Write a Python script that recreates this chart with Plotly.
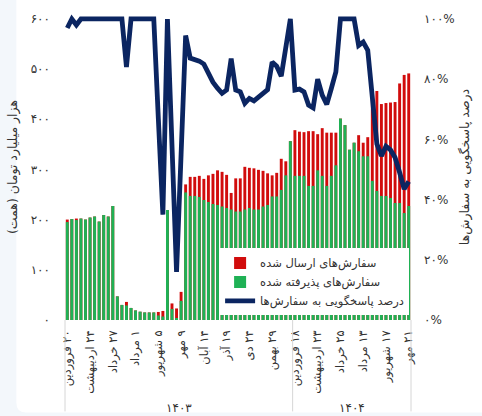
import plotly.graph_objects as go

# ---------------- data ----------------
# weekly bars: total sent orders and accepted orders (thousand billion toman)
sent = [200, 201, 202, 202, 200, 204, 206, 196, 209, 206,
        227, 47, 30, 36, 24, 19, 16.5, 15, 15, 15,
        16, 18, 219, 33, 23, 56, 270, 285, 285, 287,
        281, 288, 291, 298, 295, 289, 253, 282, 282, 305,
        303, 302, 299, 297, 292, 288, 293, 321, 316, 356,
        378, 375, 374, 376, 376, 370, 382, 373, 373, 373,
        401, 388, 339, 353, 368, 353, 364, 448, 456, 430,
        432, 433, 434, 471, 488, 491]
accepted = [195, 201, 199, 202, 200, 204, 206, 196, 209, 206,
            227, 47, 30, 29, 24, 19, 16.5, 15, 15, 15,
            9, 7, 219, 22, 3, 38, 254, 247, 247, 245,
            239, 235, 231, 229, 226, 223, 220, 216, 216, 220,
            223, 220, 220, 226, 229, 246, 246, 259, 288, 356,
            287, 287, 287, 267, 267, 298, 287, 267, 287, 308,
            401, 388, 339, 353, 336, 326, 326, 277, 257, 247,
            247, 243, 233, 233, 213, 227]
# response rate (%)
response_pct = [97, 100, 98, 100, 100, 100, 100, 100, 100, 100,
                100, 100, 100, 84, 100, 100, 100, 100, 100, 100,
                67, 35, 100, 58, 16, 55, 94.5, 87, 86.5, 86,
                85, 81.5, 79, 77, 75.3, 76.4, 86.8, 76.4, 75.8, 72,
                73.6, 72.8, 74, 75, 76.5, 85.7, 84.3, 81, 89.5, 100,
                76.4, 76.7, 75.8, 71.4, 70.5, 80, 74.7, 71.6, 76.9, 82.4,
                100, 100, 100, 100, 91.2, 92.3, 89.6, 74, 58.5, 54.5,
                57.7, 56.5, 54, 49, 43.5, 46]

years = ["۱۴۰۳", "۱۴۰۴"]
weeks_per_year = [50, 26]
tick_labels_1403 = ["۲۰ فروردین", "۲۴ اردیبهشت", "۲۷ خرداد", "۱ مرداد", "۵ شهریور",
                    "۹ مهر", "۱۴ آبان", "۱۹ آذر", "۲۴ دی", "۲۹ بهمن"]
tick_labels_1404 = ["۱۸ فروردین", "۲۳ اردیبهشت", "۲۵ خرداد", "۱۳ مرداد",
                    "۱۷ شهریور", "۲۱ مهر"]
tick_step = 5
left_ticks = [0, 100, 200, 300, 400, 500, 600]
right_ticks = [0, 20, 40, 60, 80, 100]

series_names = ["سفارش‌های ارسال شده", "سفارش‌های پذیرفته شده", "درصد پاسخگویی به سفارش‌ها"]
left_title = "هزار میلیارد تومان (همت)"
right_title = "درصد پاسخگویی به سفارش‌ها"

# ---------------- helpers ----------------
FA = str.maketrans("0123456789", "۰۱۲۳۴۵۶۷۸۹")


def fa(n):
    return str(n).translate(FA)


RLM = "\u200f"
n_total = sum(weeks_per_year)
x = list(range(n_total))
tick_vals = list(range(0, weeks_per_year[0], tick_step)) + \
    list(range(weeks_per_year[0], n_total, tick_step))
tick_text = [RLM + t for t in tick_labels_1403 + tick_labels_1404]

FONT = "DejaVu Sans, sans-serif"
RED = "#d10c0c"
GREEN = "#1fb155"
NAVY = "#0b2561"
TXT = "#333333"

W, H = 482, 416
ML, MR, MT, MB = 59, 46, 12, 96
PW, PH = W - ML - MR, H - MT - MB


def px_x(px):
    return (px - ML) / PW


def px_y(py):
    return (H - MB - py) / PH


fig = go.Figure()
fig.add_trace(go.Bar(x=x, y=sent, name=series_names[0], marker_color=RED,
                     marker_line_width=0, width=0.64))
fig.add_trace(go.Bar(x=x, y=accepted, name=series_names[1], marker_color=GREEN,
                     marker_line_width=0, width=0.64))
fig.add_trace(go.Scatter(x=x, y=[v / 100 for v in response_pct], name=series_names[2],
                         mode="lines", yaxis="y2",
                         line=dict(color=NAVY, width=4.8)))

# card background with rounded bottom-left corner
r = 10
card_path = (f"M {px_x(6)},{px_y(-20)} L {px_x(6)},{px_y(413 - r)} "
             f"Q {px_x(6)},{px_y(413)} {px_x(6 + r)},{px_y(413)} "
             f"L {px_x(520)},{px_y(413)} L {px_x(520)},{px_y(-20)} Z")
shapes = [dict(type="path", path=card_path, xref="paper", yref="paper",
               fillcolor="white", line=dict(width=0), layer="below")]

# group dividers under the category axis
bounds = [0]
for n in weeks_per_year:
    bounds.append(bounds[-1] + n)
for b in bounds:
    shapes.append(dict(type="line", xref="paper", yref="paper",
                       x0=b / n_total, x1=b / n_total, y0=0, y1=px_y(412),
                       line=dict(color="#d6d6d6", width=1)))

annotations = []
for k, yr in enumerate(years):
    center = (bounds[k] + bounds[k + 1] - 1) / 2
    annotations.append(dict(x=center, xref="x", y=px_y(409), yref="paper",
                            text=yr, showarrow=False, yanchor="middle",
                            font=dict(size=12, color=TXT, family=FONT)))

fig.update_layout(
    width=W, height=H,
    margin=dict(l=ML, r=MR, t=MT, b=MB),
    paper_bgcolor="#f3f7fb",
    plot_bgcolor="rgba(0,0,0,0)",
    barmode="overlay",
    font=dict(family=FONT, size=12, color=TXT),
    shapes=shapes,
    annotations=annotations,
    showlegend=True,
    legend=dict(x=px_x(228), y=px_y(248), xanchor="left", yanchor="top",
                bgcolor="white", borderwidth=0,
                font=dict(size=11.5, color=TXT, family=FONT),
                traceorder="normal"),
    xaxis=dict(range=[-0.5, n_total - 0.5], tickvals=tick_vals, ticktext=tick_text,
               tickangle=-90, showgrid=False, zeroline=False, showline=False,
               ticks="", ticklabelstandoff=7,
               tickfont=dict(size=11.5, color=TXT, family=FONT)),
    yaxis=dict(range=[0, 600 * PH / (320 - 16.7)], tickvals=left_ticks,
               ticktext=[fa(v) for v in left_ticks],
               showgrid=False, zeroline=False, showline=False, ticks="",
               ticklabelstandoff=14,
               tickfont=dict(size=12, color=TXT, family=FONT),
               title=dict(text=left_title, standoff=10,
                          font=dict(size=12.5, color=TXT, family=FONT))),
    yaxis2=dict(range=[0, PH / (320 - 17)], overlaying="y", side="right",
                tickvals=[v / 100 for v in right_ticks],
                ticktext=[fa(v) + "%" for v in right_ticks],
                showgrid=False, zeroline=False, showline=False, ticks="",
                ticklabelstandoff=12,
                tickfont=dict(size=12, color=TXT, family=FONT),
                title=dict(text=right_title, standoff=6,
                           font=dict(size=12.5, color=TXT, family=FONT))),
)

fig.write_html("out.html")
